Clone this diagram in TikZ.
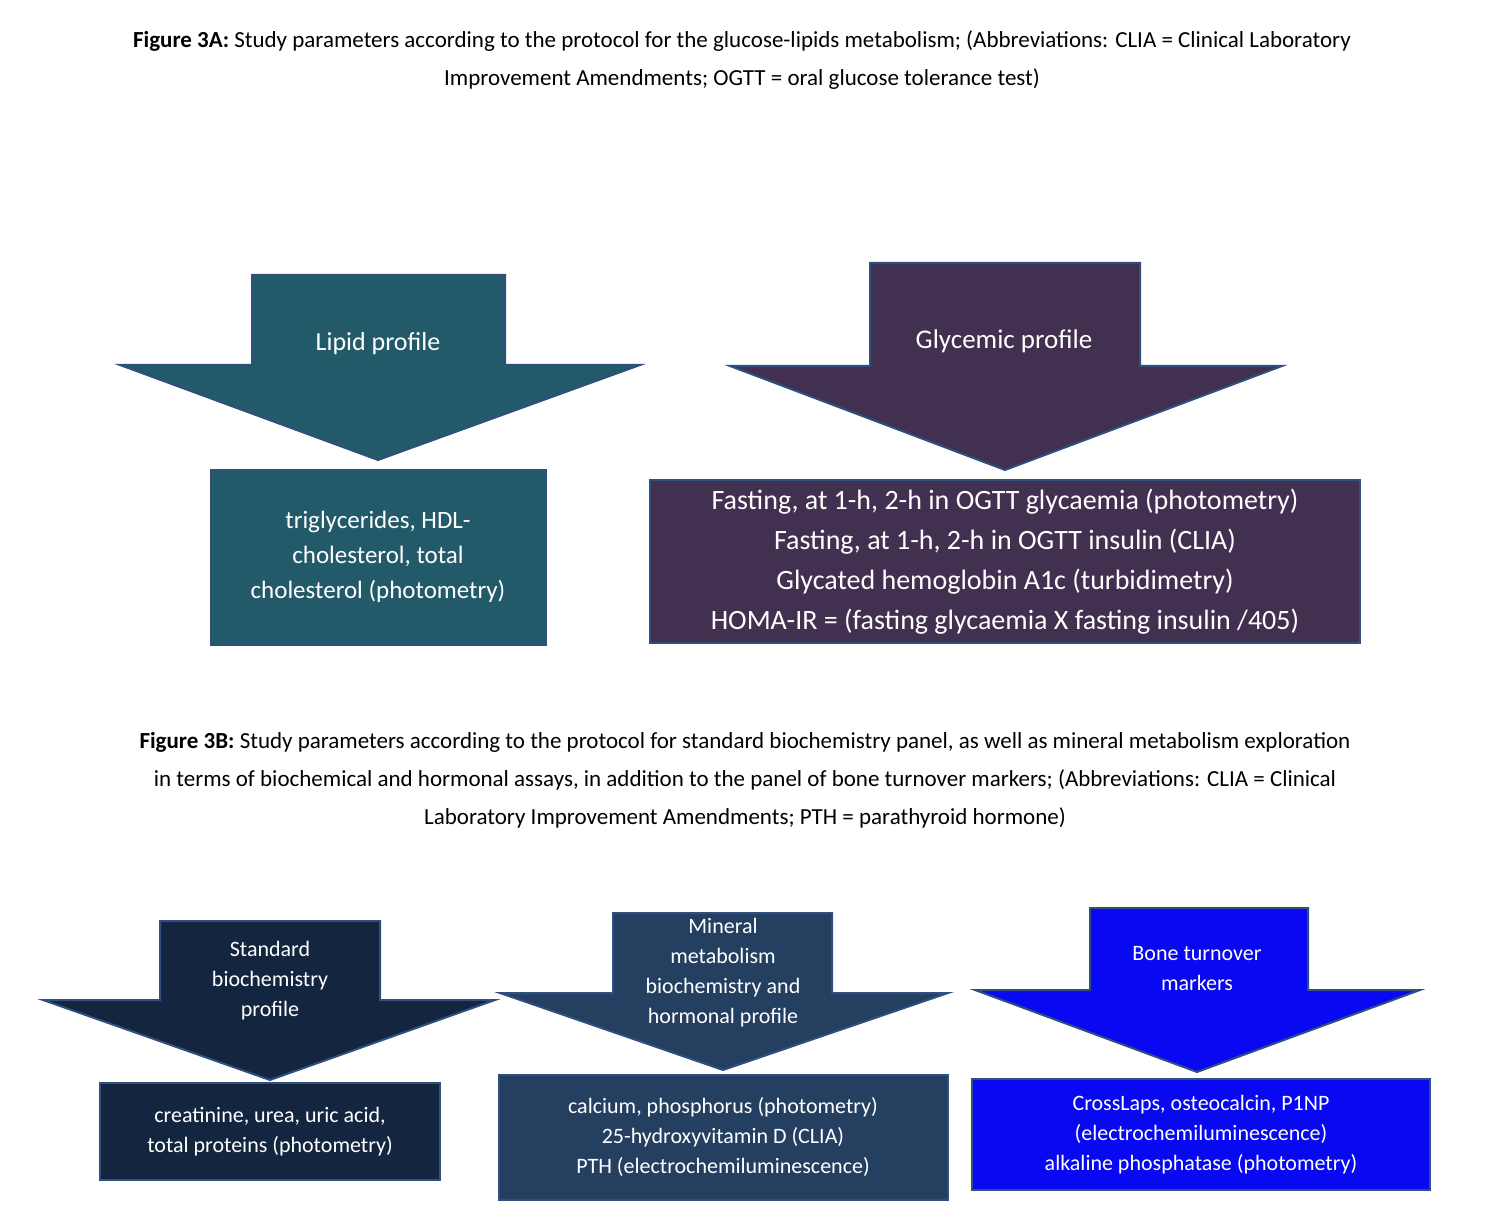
\documentclass[tikz,border=0pt]{standalone}
\usepackage{fontspec}
\setmainfont{Carlito}
\definecolor{teal1}{HTML}{235A69}
\definecolor{purp}{HTML}{41304F}
\definecolor{navy1}{HTML}{13253F}
\definecolor{navy2}{HTML}{243F60}
\definecolor{blu}{HTML}{0808F2}
\definecolor{edge}{HTML}{2F4F7F}
\begin{document}
\begin{tikzpicture}[x=0.5pt,y=-0.5pt,
 shp/.style={draw=edge,line width=1pt},
 wt/.style={text=white,align=center,inner sep=0pt},
 captxt/.style={align=center,inner sep=0pt,font=\fontsize{11.5}{19}\selectfont}]
\useasboundingbox (0,0) rectangle (1485,1230);
% captions
\node[captxt] (c1) at (742,60) {\textbf{Figure 3A:} Study parameters according to the protocol for the glucose-lipids metabolism; (Abbreviations: CLIA = Clinical Laboratory\\Improvement Amendments; OGTT = oral glucose tolerance test)};
\node[captxt] (c2) at (745,780) {\textbf{Figure 3B:} Study parameters according to the protocol for standard biochemistry panel, as well as mineral metabolism exploration\\in terms of biochemical and hormonal assays, in addition to the panel of bone turnover markers; (Abbreviations: CLIA = Clinical\\Laboratory Improvement Amendments; PTH = parathyroid hormone)};
% arrows
\fill[teal1,shp] (252,275) -- (505,275) -- (505,365) -- (640,365) -- (378,460) -- (120,365) -- (252,365) -- cycle;
\fill[purp,shp] (870,263) -- (1140,263) -- (1140,366) -- (1282,366) -- (1005,470) -- (730,366) -- (870,366) -- cycle;
\fill[navy1,shp] (160,921) -- (380,921) -- (380,1000) -- (495,1000) -- (270,1080) -- (43,1000) -- (160,1000) -- cycle;
\fill[navy2,shp] (613,913) -- (832,913) -- (832,993) -- (948,993) -- (723,1070) -- (500,993) -- (613,993) -- cycle;
\fill[blu,shp] (1090,908) -- (1308,908) -- (1308,990) -- (1420,990) -- (1197,1072) -- (975,990) -- (1090,990) -- cycle;
% arrow labels
\node[wt,font=\fontsize{13}{16}\selectfont] (a1) at (378,344) {Lipid profile};
\node[wt,font=\fontsize{13.5}{16}\selectfont] (a2) at (1004,341) {Glycemic profile};
\node[wt,font=\fontsize{11}{15}\selectfont] (a3) at (270,981) {Standard\\biochemistry\\profile};
\node[wt,font=\fontsize{11}{15}\selectfont] (a4) at (723,973) {Mineral\\metabolism\\biochemistry and\\hormonal profile};
\node[wt,font=\fontsize{11}{15}\selectfont] (a5) at (1197,969) {Bone turnover\\markers};
% boxes
\fill[teal1,shp] (211,470) rectangle (546,645);
\node[wt,font=\fontsize{12.5}{17.5}\selectfont] (b1) at (378,557) {triglycerides, HDL-\\cholesterol, total\\cholesterol (photometry)};
\fill[purp,shp] (650,480) rectangle (1360,643);
\node[wt,font=\fontsize{14}{20}\selectfont] (b2) at (1005,562) {Fasting, at 1-h, 2-h in OGTT glycaemia (photometry)\\Fasting, at 1-h, 2-h in OGTT insulin (CLIA)\\Glycated hemoglobin A1c (turbidimetry)\\HOMA-IR = (fasting glycaemia X fasting insulin /405)};
\fill[navy1,shp] (100,1083) rectangle (440,1180);
\node[wt,font=\fontsize{11}{15}\selectfont] (b3) at (270,1132) {creatinine, urea, uric acid,\\total proteins (photometry)};
\fill[navy2,shp] (499,1075) rectangle (948,1200);
\node[wt,font=\fontsize{11}{15}\selectfont] (b4) at (723,1137) {calcium, phosphorus (photometry)\\25-hydroxyvitamin D (CLIA)\\PTH (electrochemiluminescence)};
\fill[blu,shp] (972,1079) rectangle (1430,1190);
\node[wt,font=\fontsize{11}{15}\selectfont] (b5) at (1201,1135) {CrossLaps, osteocalcin, P1NP\\(electrochemiluminescence)\\alkaline phosphatase (photometry)};
\end{tikzpicture}
\end{document}
